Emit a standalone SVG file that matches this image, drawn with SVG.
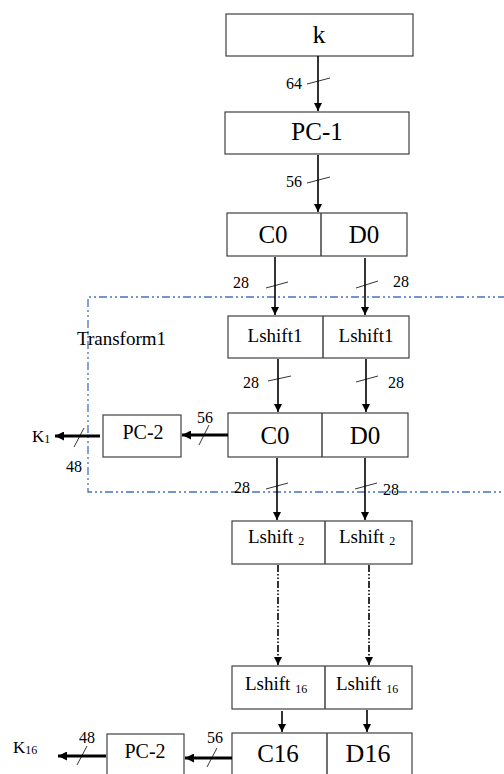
<svg xmlns="http://www.w3.org/2000/svg" width="504" height="774" viewBox="0 0 504 774" font-family="Liberation Serif, DejaVu Serif, serif">
  <defs>
    <marker id="ah" viewBox="0 0 10 10" refX="10" refY="5" markerWidth="9" markerHeight="8" markerUnits="userSpaceOnUse" orient="auto">
      <path d="M0,0 L10,5 L0,10 z" fill="#000"/>
    </marker>
    <marker id="ahw" viewBox="0 0 10 10" refX="10" refY="5" markerWidth="10" markerHeight="9" markerUnits="userSpaceOnUse" orient="auto">
      <path d="M0,0 L10,5 L0,10 z" fill="#000"/>
    </marker>
  </defs>
  <style>
    .box { fill: #fff; stroke: #404040; stroke-width: 1.2; }
    .div { stroke: #404040; stroke-width: 1.5; }
    text { font-family: 'Liberation Serif', 'DejaVu Serif', serif; fill: #000; }
    .big { font-size: 25px; }
    .mid { font-size: 19px; }
    .num { font-size: 16px; }
    .sub { font-size: 12px; }
    .v { stroke: #000; stroke-width: 1.6; fill: none; marker-end: url(#ah); }
    .h { stroke: #000; stroke-width: 3; fill: none; marker-end: url(#ahw); }
    .dd { stroke: #000; stroke-width: 1.6; fill: none; stroke-dasharray: 7 2 1.5 2 1.5 2; marker-end: url(#ah); }
    .tick { stroke: #000; stroke-width: 0.8; }
    .frame { fill: none; stroke: #4472C4; stroke-width: 1.3; stroke-dasharray: 8 3 2 3 2 3; }
  </style>

  <!-- round 1 frame -->
  <g id="transform1">
    <path class="frame" d="M506,297 H88 V492 H506"/>
    <text class="mid" x="77" y="345">Transform1</text>
  </g>

  <g id="k">
    <rect class="box" x="226" y="14" width="187" height="42"/>
    <text x="319" y="43" font-size="26" text-anchor="middle">k</text>
  </g>

  <g id="pc1">
    <rect class="box" x="225" y="112" width="184" height="42"/>
    <text class="big" x="317" y="140" text-anchor="middle">PC-1</text>
  </g>

  <g id="c0d0">
    <rect class="box" x="227" y="213" width="180" height="43"/>
    <line class="div" x1="321" y1="213" x2="321" y2="256"/>
    <text class="big" x="273" y="243" text-anchor="middle">C0</text>
    <text class="big" x="364" y="243" text-anchor="middle">D0</text>
  </g>

  <g id="lshift1">
    <rect class="box" x="228" y="316" width="181" height="42"/>
    <line class="div" x1="323" y1="316" x2="323" y2="358"/>
    <text class="mid" x="275" y="342" text-anchor="middle">Lshift1</text>
    <text class="mid" x="366" y="342" text-anchor="middle">Lshift1</text>
  </g>

  <g id="c0d0-1">
    <rect class="box" x="228" y="413" width="180" height="44"/>
    <line class="div" x1="322" y1="413" x2="322" y2="457"/>
    <text class="big" x="275" y="444" text-anchor="middle">C0</text>
    <text class="big" x="365" y="444" text-anchor="middle">D0</text>
  </g>

  <g id="pc2-1">
    <rect class="box" x="103" y="415" width="78" height="42"/>
    <text x="143" y="439" font-size="20" text-anchor="middle">PC-2</text>
  </g>

  <g id="k1">
    <text x="32" y="442" font-size="17">K<tspan class="sub" dy="1">1</tspan></text>
  </g>

  <g id="lshift2">
    <rect class="box" x="232" y="521" width="180" height="43"/>
    <line class="div" x1="325" y1="521" x2="325" y2="564"/>
    <text class="mid" x="248" y="543">Lshift <tspan class="sub" dy="2">2</tspan></text>
    <text class="mid" x="339" y="543">Lshift <tspan class="sub" dy="2">2</tspan></text>
  </g>

  <g id="lshift16">
    <rect class="box" x="232" y="666" width="180" height="43"/>
    <line class="div" x1="325" y1="666" x2="325" y2="709"/>
    <text class="mid" x="245" y="690">Lshift <tspan class="sub" dy="3">16</tspan></text>
    <text class="mid" x="336" y="690">Lshift <tspan class="sub" dy="3">16</tspan></text>
  </g>

  <g id="c16d16">
    <rect class="box" x="232" y="733" width="180" height="50"/>
    <line class="div" x1="327" y1="733" x2="327" y2="774"/>
    <text class="big" x="278" y="762" text-anchor="middle">C16</text>
    <text x="368" y="762" font-size="26" text-anchor="middle">D16</text>
  </g>

  <g id="pc2-16">
    <rect class="box" x="107" y="734" width="77" height="50"/>
    <text x="145" y="758" font-size="20" text-anchor="middle">PC-2</text>
  </g>

  <g id="k16">
    <text x="13" y="753" font-size="17">K<tspan class="sub" dy="1">16</tspan></text>
  </g>

  <g id="connectors">
    <!-- k to PC-1 -->
    <line class="v" x1="318" y1="56" x2="318" y2="111"/>
    <line class="tick" x1="307" y1="84" x2="330" y2="78"/>
    <text class="num" x="302" y="89" text-anchor="end">64</text>

    <!-- PC-1 to C0|D0 -->
    <line class="v" x1="318" y1="155" x2="318" y2="212"/>
    <line class="tick" x1="307" y1="183" x2="330" y2="177"/>
    <text class="num" x="302" y="187" text-anchor="end">56</text>

    <!-- C0|D0 to Lshift1 -->
    <line class="v" x1="275" y1="257" x2="275" y2="315"/>
    <line class="tick" x1="266" y1="288" x2="288" y2="282"/>
    <text class="num" x="233" y="288">28</text>
    <line class="v" x1="365" y1="258" x2="365" y2="315"/>
    <line class="tick" x1="356" y1="288" x2="378" y2="281"/>
    <text class="num" x="393" y="287">28</text>

    <!-- Lshift1 to C0|D0 -->
    <line class="v" x1="278" y1="359" x2="278" y2="412"/>
    <line class="tick" x1="268" y1="381" x2="291" y2="376"/>
    <text class="num" x="243" y="388">28</text>
    <line class="v" x1="366" y1="359" x2="366" y2="412"/>
    <line class="tick" x1="356" y1="382" x2="378" y2="376"/>
    <text class="num" x="388" y="388">28</text>

    <!-- C0|D0 to PC-2 to K1 -->
    <line class="h" x1="228" y1="435" x2="182" y2="435"/>
    <line class="tick" x1="199" y1="445" x2="209" y2="425"/>
    <text class="num" x="205" y="423" text-anchor="middle">56</text>
    <line class="h" x1="100" y1="436" x2="55" y2="436"/>
    <line class="tick" x1="74" y1="447" x2="84" y2="428"/>
    <text class="num" x="66" y="472">48</text>

    <!-- C0|D0 to Lshift2 -->
    <line class="v" x1="277" y1="458" x2="277" y2="520"/>
    <line class="tick" x1="266" y1="489" x2="288" y2="483"/>
    <text class="num" x="234" y="493">28</text>
    <line class="v" x1="365" y1="458" x2="365" y2="520"/>
    <line class="tick" x1="355" y1="489" x2="377" y2="483"/>
    <text class="num" x="383" y="495">28</text>

    <!-- Lshift2 through Lshift16 -->
    <line class="dd" x1="278" y1="565" x2="278" y2="665"/>
    <line class="dd" x1="369" y1="565" x2="369" y2="665"/>

    <!-- Lshift16 to C16|D16 -->
    <line class="v" x1="282" y1="711" x2="282" y2="732"/>
    <line class="v" x1="367" y1="710" x2="367" y2="732"/>

    <!-- C16|D16 to PC-2 to K16 -->
    <line class="h" x1="232" y1="758" x2="185" y2="758"/>
    <line class="tick" x1="207" y1="767" x2="217" y2="748"/>
    <text class="num" x="215" y="743" text-anchor="middle">56</text>
    <line class="h" x1="106" y1="756" x2="58" y2="756"/>
    <line class="tick" x1="77" y1="765" x2="87" y2="746"/>
    <text class="num" x="87" y="743" text-anchor="middle">48</text>
  </g>
</svg>
